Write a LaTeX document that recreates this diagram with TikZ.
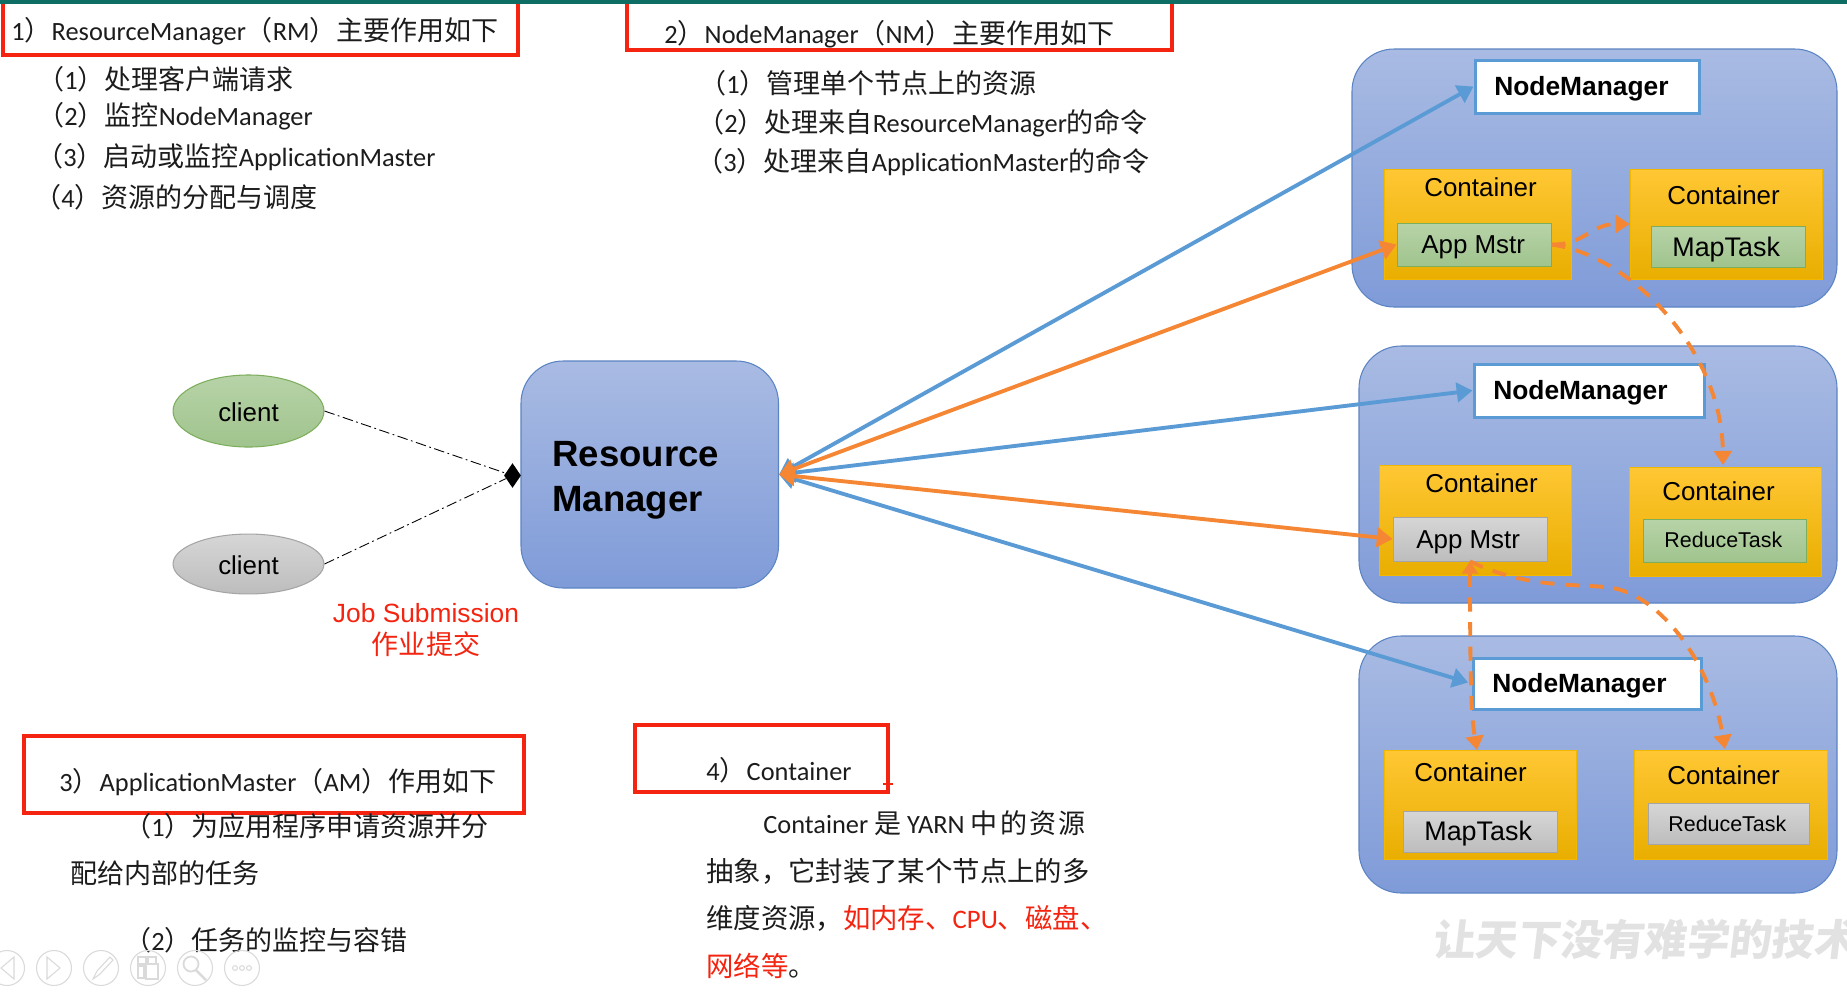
\documentclass[tikz,border=0pt]{standalone}
\usepackage{fontspec}
\usetikzlibrary{fit,arrows.meta,shapes.geometric}
\setmainfont{Carlito}
\newfontfamily\arialfont{Liberation Sans}
\newfontfamily\cjkfont[Scale=1.025]{Noto Sans CJK SC}
\newcommand{\cn}[1]{{\cjkfont #1}}
\definecolor{redbox}{HTML}{F42410}
\definecolor{bluearrow}{HTML}{5B9BD5}
\definecolor{orangearrow}{HTML}{F58634}
\definecolor{inktext}{HTML}{1C1C1C}
\definecolor{toolgray}{HTML}{DADADA}
\definecolor{stripteal}{HTML}{0F6E64}
\definecolor{outerline}{HTML}{5B84C4}
\definecolor{outertop}{HTML}{A9BBE3}
\definecolor{outerbot}{HTML}{7F9BD8}
\definecolor{conttop}{HTML}{FFC734}
\definecolor{contmid}{HTML}{FFC000}
\definecolor{contbot}{HTML}{E9AE00}
\definecolor{contline}{HTML}{F2B800}
\definecolor{greentop}{HTML}{B7D3A8}
\definecolor{greenbot}{HTML}{A0C48D}
\definecolor{greenline}{HTML}{7DAE5C}
\definecolor{graytop}{HTML}{D6D6D6}
\definecolor{graybot}{HTML}{BDBDBD}
\definecolor{grayline}{HTML}{A5A5A5}
\definecolor{markgray}{HTML}{E2E2E2}
\tikzset{
  txt/.style={anchor=base west,inner sep=0pt,text=inktext,font=\fontsize{15}{18}\selectfont},
  widetxt/.style={txt,font=\fontsize{15.2}{18}\selectfont},
  redtxt/.style={anchor=base,inner sep=0pt,text=redbox,font=\arialfont\fontsize{15}{18}\selectfont},
  boxtxt/.style={anchor=base west,inner sep=0pt,text=black,font=\arialfont\fontsize{14.75}{18}\selectfont},
  tasktxt/.style={boxtxt,font=\arialfont\fontsize{15.3}{18}\selectfont},
  smalltxt/.style={boxtxt,font=\arialfont\fontsize{12.2}{14}\selectfont},
  nmtxt/.style={boxtxt,font=\arialfont\bfseries\fontsize{15}{18}\selectfont},
  redframe/.style={draw=redbox,line width=1.8pt},
  outerbox/.style={draw=outerline,line width=0.6pt,rounded corners=24pt,inner sep=0pt,
    top color=outertop,bottom color=outerbot},
  nmbox/.style={draw=bluearrow,line width=1.7pt,fill=white,inner sep=0pt},
  contbox/.style={inner sep=0pt,draw=contline,line width=0.4pt,
    top color=conttop,middle color=contmid,bottom color=contbot},
  greenbox/.style={inner sep=0pt,draw=greenline,line width=0.4pt,top color=greentop,bottom color=greenbot},
  graybox/.style={inner sep=0pt,draw=grayline,line width=0.4pt,top color=graytop,bottom color=graybot},
  blueline/.style={bluearrow,line width=2.2pt,{Triangle[length=9pt,width=11pt]}-{Triangle[length=9pt,width=11pt]}},
  orangeline/.style={orangearrow,line width=2.2pt,{Triangle[length=9pt,width=11pt]}-{Triangle[length=9pt,width=11pt]}},
  dashline/.style={orangearrow,line width=2.2pt,dash pattern=on 8pt off 6pt,-{Triangle[length=8pt,width=10pt]}},
  subline/.style={black,line width=0.5pt,dash pattern=on 6pt off 2pt on 1pt off 2pt},
  toolring/.style={draw=toolgray,line width=0.6pt}
}
\begin{document}
\begin{tikzpicture}[x=0.02cm,y=-0.02cm]
\useasboundingbox (0,0) rectangle (1847,992);
\fill[white] (0,0) rectangle (1847,992);

\draw[redframe] (3,-3) rectangle (518,55);
\draw[redframe] (627,-3) rectangle (1172,50);
\draw[redframe] (24,736) rectangle (524,813);
\draw[redframe] (635,725) rectangle (888,792);
\draw[redbox,line width=0.8pt] (883,784) -- (893,784) (888,780) -- (888,789);
\fill[stripteal] (0,0) rectangle (1847,3.5);

\node[txt] (rmhead) at (11,40) {1\cn{）}ResourceManager\cn{（}RM\cn{）主要作用如下}};
\node[txt] (rmone) at (37,89) {\cn{（}1\cn{）处理客户端请求}};
\node[txt] (rmtwo) at (37,125) {\cn{（}2\cn{）监控}NodeManager};
\node[txt] (rmthree) at (36,166) {\cn{（}3\cn{）启动或监控}ApplicationMaster};
\node[txt] (rmfour) at (34,207) {\cn{（}4\cn{）资源的分配与调度}};

\node[txt] (nmhead) at (664,43) {2\cn{）}NodeManager\cn{（}NM\cn{）主要作用如下}};
\node[txt] (nmone) at (699,93) {\cn{（}1\cn{）管理单个节点上的资源}};
\node[txt] (nmtwo) at (697,132) {\cn{（}2\cn{）处理来自}ResourceManager\cn{的命令}};
\node[txt] (nmthree) at (696,171) {\cn{（}3\cn{）处理来自}ApplicationMaster\cn{的命令}};

\node[txt] (amhead) at (59,791) {3\cn{）}ApplicationMaster\cn{（}AM\cn{）作用如下}};
\node[txt] (amone) at (124,836) {\cn{（}1\cn{）为应用程序申请资源并分}};
\node[txt] (amoneb) at (70,883) {\cn{配给内部的任务}};
\node[txt] (amtwo) at (124,950) {\cn{（}2\cn{）任务的监控与容错}};

\node[txt] (cthead) at (706,780) {4\cn{）}Container};
\node[txt] (ctone) at (763,833) {Container \cn{是} YARN \cn{中\hspace{1.4pt}的\hspace{1.4pt}资\hspace{1.4pt}源}};
\node[widetxt] (cttwo) at (706,881) {\cn{抽象，它封装了某个节点上的多}};
\node[widetxt] (ctthree) at (706,928) {\cn{维度资源，}{\color{redbox}\cn{如内存、}CPU\cn{、磁盘、}}};
\node[widetxt] (ctfour) at (706,976) {{\color{redbox}\cn{网络等}}\cn{。}};

\node[outerbox,fit={(521,361)(778.5,588)}] (rm) {};
\node[boxtxt,font=\arialfont\bfseries\fontsize{20.8}{25.5}\selectfont,align=left,anchor=west] (rmtxt) at (552,480) {Resource\\Manager};

\node[ellipse,inner sep=0pt,draw=greenline,line width=0.6pt,top color=greentop,bottom color=greenbot,minimum width=85.9pt,minimum height=41pt] (clientone) at (248.5,411) {};
\node[ellipse,inner sep=0pt,draw=grayline,line width=0.6pt,top color=graytop,bottom color=graybot,minimum width=85.9pt,minimum height=34.1pt] (clienttwo) at (248.5,564) {};
\node[boxtxt,anchor=base] (clientonetxt) at (248.5,421) {client};
\node[boxtxt,anchor=base] (clienttwotxt) at (248.5,574) {client};
\node[redtxt] (jobtxt) at (426,622) {Job Submission};
\node[redtxt,font=\fontsize{15}{18}\selectfont] (jobcn) at (426,654) {\cn{作业提交}};

\node[outerbox,fit={(1352,49)(1837,307)}] (nodeone) {};
\node[outerbox,fit={(1359,346)(1837,603)}] (nodetwo) {};
\node[outerbox,fit={(1359,636)(1837,893)}] (nodethree) {};

\node[nmbox,fit={(1475,60)(1699,113)}] (nmbone) {};
\node[nmbox,fit={(1474,364)(1704,417)}] (nmbtwo) {};
\node[nmbox,fit={(1473,658)(1701,709)}] (nmbthree) {};
\node[nmtxt] (nmtxtone) at (1494,95) {NodeManager};
\node[nmtxt] (nmtxttwo) at (1493,399) {NodeManager};
\node[nmtxt] (nmtxtthree) at (1492,692) {NodeManager};

\node[contbox,fit={(1384,169)(1571,279)}] (contone) {};
\node[contbox,fit={(1630,169)(1822,279)}] (conttwo) {};
\node[contbox,fit={(1379,465)(1571,575)}] (contthree) {};
\node[contbox,fit={(1629,467)(1821,576)}] (contfour) {};
\node[contbox,fit={(1384,750)(1576,859)}] (contfive) {};
\node[contbox,fit={(1634,750)(1827,859)}] (contsix) {};

\node[greenbox,fit={(1397,223)(1551,266)}] (appone) {};
\node[greenbox,fit={(1651,226)(1805,267)}] (mapone) {};
\node[graybox,fit={(1393,517)(1547,561)}] (apptwo) {};
\node[greenbox,fit={(1643,519)(1806,562)}] (reduceone) {};
\node[graybox,fit={(1403,811)(1557,852)}] (maptwo) {};
\node[graybox,fit={(1648,803)(1809,844)}] (reducetwo) {};

\node[boxtxt] (conttxtone) at (1424,196) {Container};
\node[boxtxt] (conttxttwo) at (1667,204) {Container};
\node[boxtxt] (conttxtthree) at (1425,492) {Container};
\node[boxtxt] (conttxtfour) at (1662,500) {Container};
\node[boxtxt] (conttxtfive) at (1414,781) {Container};
\node[boxtxt] (conttxtsix) at (1667,784) {Container};
\node[boxtxt] (apptxtone) at (1421,253) {App Mstr};
\node[tasktxt] (maptxtone) at (1672,256) {MapTask};
\node[boxtxt] (apptxttwo) at (1416,548) {App Mstr};
\node[smalltxt] (reducetxtone) at (1664,547) {ReduceTask};
\node[tasktxt] (maptxttwo) at (1424,840) {MapTask};
\node[smalltxt] (reducetxttwo) at (1668,831) {ReduceTask};

\node[inner sep=0pt,anchor=base west,text=markgray,font=\cjkfont\bfseries\fontsize{23.5}{28}\selectfont,xslant=0.12] (mark) at (1432,955) {让天下没有难学的技术};

\node[diamond,fill=black,inner sep=0pt,minimum width=9.7pt,minimum height=14.2pt,aspect=0.68] (meet) at (512.5,475.5) {};
\draw[subline] (clientone.east) -- (meet);
\draw[subline] (clienttwo.east) -- (meet);

\draw[blueline] (rm.east) -- (nmbone.west);
\draw[blueline] (rm.east) -- (nmbtwo.west);
\draw[blueline,shorten >=2pt] (rm.east) -- (nmbthree.west);
\draw[orangeline] (rm.east) -- (appone.west);
\draw[orangeline] (rm.east) -- (apptwo.west);

\coordinate (tipfive) at (1477,750);
\coordinate (tipsix) at (1725,749);
\coordinate (tipfour) at (1723,465);
\draw[dashline] (appone.east) .. controls (1585,245) and (1590,224) .. (conttwo.west);
\draw[dashline] (appone.east) .. controls (1630,255) and (1722,350) .. (tipfour);
\draw[dashline] (apptwo.south) .. controls (1530,590) and (1580,583) .. (1613,588) .. controls (1660,597) and (1710,660) .. (tipsix);
\draw[dashline,{Triangle[length=7pt,width=9pt]}-{Triangle[length=8pt,width=10pt]}] (apptwo.south) .. controls (1470,700) and (1472,720) .. (tipfive);

\foreach \ringx in {7,54,101,148,195,242}
  \draw[toolring] (\ringx,968) circle (17.5);
\draw[toolring] (14,957) -- (1,968) -- (14,979) -- cycle;
\draw[toolring] (47,957) -- (60,968) -- (47,979) -- cycle;
\draw[toolring] (93,979) -- (97,971) -- (110,957) -- (113,960) -- (100,974) -- cycle;
\draw[toolring] (138,957) rectangle (146,964) (148,957) rectangle (156,964) (138,966) rectangle (144,978);
\draw[toolring,line width=1pt] (146,964) rectangle (158,979);
\draw[toolring,line width=1pt] (191,964) circle (7.5);
\draw[toolring,line width=1.4pt] (196,970) -- (206,980);
\foreach \dotx in {235,242,249}
  \draw[toolring] (\dotx,968) circle (2.4);
\end{tikzpicture}
\end{document}
